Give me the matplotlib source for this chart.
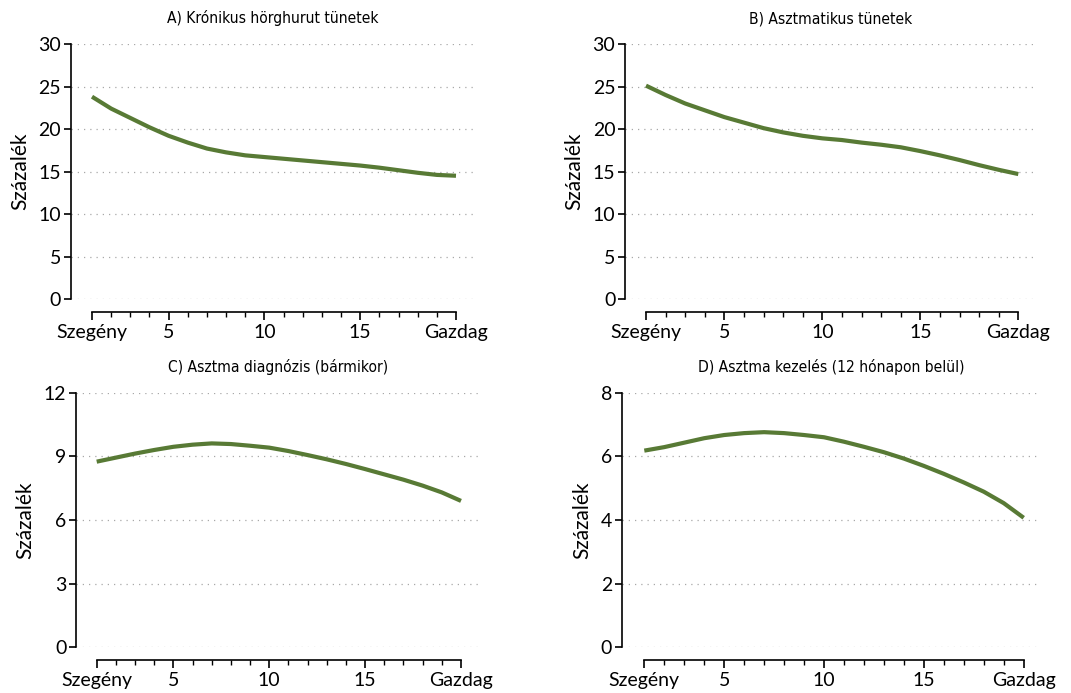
import matplotlib
matplotlib.use("Agg")
import matplotlib.pyplot as plt
from matplotlib.ticker import FixedLocator, NullFormatter

# ---- data ----
x_vals = list(range(1, 21))
x_tick_pos = [1, 5, 10, 15, 20]
x_tick_labels = ["Szegény", "5", "10", "15", "Gazdag"]

titles = [
    "A) Krónikus hörghurut tünetek",
    "B) Asztmatikus tünetek",
    "C) Asztma diagnózis (bármikor)",
    "D) Asztma kezelés (12 hónapon belül)",
]

chronic_bronchitis = [23.8, 22.4, 21.3, 20.2, 19.2, 18.4, 17.7, 17.25, 16.9, 16.7,
                      16.5, 16.3, 16.1, 15.9, 15.7, 15.45, 15.15, 14.85, 14.6, 14.5]
asthma_symptoms = [25.1, 24.0, 23.0, 22.2, 21.4, 20.75, 20.1, 19.6, 19.2, 18.9,
                   18.7, 18.4, 18.15, 17.85, 17.4, 16.9, 16.35, 15.75, 15.2, 14.7]
asthma_diagnosis = [8.75, 8.94, 9.13, 9.30, 9.45, 9.55, 9.61, 9.58, 9.50, 9.41,
                    9.25, 9.06, 8.86, 8.64, 8.40, 8.15, 7.90, 7.62, 7.30, 6.90]
asthma_treatment = [6.18, 6.29, 6.43, 6.57, 6.67, 6.73, 6.76, 6.73, 6.67, 6.60,
                    6.46, 6.30, 6.13, 5.93, 5.70, 5.45, 5.18, 4.89, 4.53, 4.07]

series = [chronic_bronchitis, asthma_symptoms, asthma_diagnosis, asthma_treatment]
y_ticks = [[0, 5, 10, 15, 20, 25, 30], [0, 5, 10, 15, 20, 25, 30],
           [0, 3, 6, 9, 12], [0, 2, 4, 6, 8]]

# ---- layout (pixel rects: left, top, right, bottom; x pixel of x=1 and x=20) ----
W, H = 1071, 693
panels = [
    (70.7, 44, 475, 299, 92, 456),
    (625, 44, 1036, 299, 646, 1018.3),
    (76, 392.7, 481, 647.3, 96.7, 461),
    (621.7, 392.7, 1040.7, 647.3, 644.3, 1023.7),
]

line_color = "#587a35"
tick_font = "Lato"

fig = plt.figure(figsize=(W / 100, H / 100), dpi=100)

for i, (l, t, r, b, x1, x20) in enumerate(panels):
    ax = fig.add_axes([l / W, 1 - b / H, (r - l) / W, (b - t) / H])
    ppu = (x20 - x1) / 19.0
    xmin = 1 - (x1 - l) / ppu
    xmax = 20 + (r - x20) / ppu
    ax.set_xlim(xmin, xmax)
    yt = y_ticks[i]
    ax.set_ylim(yt[0], yt[-1])

    ax.plot(x_vals, series[i], color=line_color, lw=3.0, solid_capstyle="butt",
            solid_joinstyle="round", clip_on=False, zorder=3)

    for s in ["top", "right"]:
        ax.spines[s].set_visible(False)
    ax.spines["left"].set_bounds(yt[0], yt[-1])
    ax.spines["left"].set_linewidth(1.2)
    ax.spines["bottom"].set_position(("outward", 9.3))
    ax.spines["bottom"].set_bounds(1, 20)
    ax.spines["bottom"].set_linewidth(1.2)

    ax.set_yticks(yt)
    ax.set_yticklabels([str(v) for v in yt], fontfamily=tick_font, fontsize=14)
    ax.yaxis.grid(True, linestyle=(0, (1, 4)), color="#a8a8a8", lw=0.9)
    ax.set_axisbelow(True)

    ax.set_xticks(x_tick_pos)
    ax.set_xticklabels(x_tick_labels, fontfamily=tick_font, fontsize=14)
    ax.xaxis.set_minor_locator(FixedLocator([v for v in x_vals if v not in x_tick_pos]))
    ax.xaxis.set_minor_formatter(NullFormatter())
    ax.tick_params(axis="x", which="major", length=6, width=1.2, pad=2.5)
    ax.tick_params(axis="x", which="minor", length=3.5, width=1.0)
    ax.tick_params(axis="y", which="major", length=5, width=1.2, pad=2)

    ax.set_ylabel("Százalék", fontfamily=tick_font, fontsize=15, labelpad=6)

    ax.set_title(titles[i], fontfamily="DejaVu Sans", fontstretch="condensed",
                 fontsize=11.2, pad=15)

fig.savefig("out.png", dpi=100)
